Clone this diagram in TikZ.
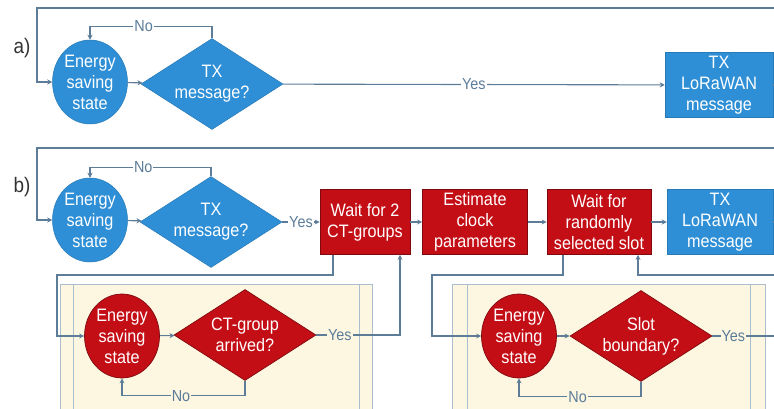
\documentclass[tikz,border=0pt]{standalone}
\usepackage{fontspec}
\setmainfont{Liberation Sans}[FakeStretch=0.9]
\usepackage{xcolor}
\usepackage{tikz}
\usetikzlibrary{shapes.geometric,arrows.meta,positioning}
\definecolor{flowblue}{RGB}{46,143,214}
\definecolor{flowred}{RGB}{196,14,22}
\definecolor{flowline}{RGB}{92,124,152}
\definecolor{panelcream}{RGB}{253,247,226}
\definecolor{panelline}{RGB}{170,190,206}

\tikzset{
    conn/.style={flowline, line width=1.1pt, -{Stealth[length=5pt,width=5pt]}},
    statecirc/.style={ellipse, minimum width=75pt, minimum height=84pt, inner sep=0pt,
        align=center, text=white, font=\fontsize{18}{21}\selectfont},
    decision/.style={diamond, aspect=1.55, minimum width=142pt, minimum height=91pt,
        inner sep=0pt, align=center, text=white, font=\fontsize{18}{21}\selectfont},
    stepbox/.style={rectangle, minimum height=65pt, inner sep=2pt, align=center,
        text=white, font=\fontsize{18}{21}\selectfont},
    bluefill/.style={fill=flowblue, draw=flowblue!85!black, line width=0.5pt},
    redfill/.style={fill=flowred, draw=flowred!65!black, line width=0.7pt},
    lbl/.style={fill=white, text=flowline, inner sep=1pt, font=\fontsize{16}{18}\selectfont},
    part/.style={text=black!80, font=\fontsize{21}{24}\selectfont},
}

\begin{document}
\begin{tikzpicture}[x=1pt, y=-1pt]
    \path[use as bounding box, clip] (0,0) rectangle (774,409);
    \fill[white] (0,0) rectangle (774,409);

    % a) plain LoRaWAN node
    \node[part] (la) at (22,48) {a)};
    \node[statecirc, bluefill] (ea) at (90,82) {Energy\\saving\\state};
    \node[decision, bluefill] (da) at (212,84) {TX\\message?};
    \node[stepbox, bluefill, minimum width=108pt] (ta) at (719,85) {TX\\LoRaWAN\\message};

    \draw[conn] (ea) -- (da);
    \draw[conn] (da.north) -- ++(0,-12) -| node[lbl, pos=0.28] {No} (ea.north);
    \draw[conn] (da) -- node[lbl] {Yes} (ta);
    \draw[conn] (ta.east) -- ++(20,0) |- (37,8) |- (ea.west);

    % b) synchronised node
    \node[part] (lb) at (22,187) {b)};
    \node[statecirc, bluefill] (eb) at (90,220) {Energy\\saving\\state};
    \node[decision, bluefill] (db) at (211,222) {TX\\message?};
    \node[stepbox, redfill, minimum width=90pt] (w1) at (365,222) {Wait for 2\\CT-groups};
    \node[stepbox, redfill, minimum width=105pt] (w2) at (475,222) {Estimate\\clock\\parameters};
    \node[stepbox, redfill, minimum width=104pt] (w3) at (599,222) {Wait for\\randomly\\selected slot};
    \node[stepbox, bluefill, minimum width=106pt] (tb) at (720,222) {TX\\LoRaWAN\\message};

    \draw[conn] (eb) -- (db);
    \draw[conn] (db.north) -- ++(0,-9) -| node[lbl, pos=0.28] {No} (eb.north);
    \draw[conn] (db) -- node[lbl] {Yes} (w1);
    \draw[conn] (w1) -- (w2);
    \draw[conn] (w2) -- (w3);
    \draw[conn] (w3) -- (tb);
    \draw[conn] (tb.east) -- ++(20,0) |- (37,148) |- (eb.west);

    % Sub-processes
    \foreach \xl/\xa/\xb/\xr in {60/73/359/372, 452/467/750/765} {
        \filldraw[fill=panelcream, draw=panelline, line width=0.8pt] (\xl,284) rectangle (\xr,420);
        \draw[panelline, line width=0.8pt] (\xa,284) -- (\xa,420) (\xb,284) -- (\xb,420);
    }

    \node[statecirc, redfill] (ec1) at (122,336) {Energy\\saving\\state};
    \node[decision, redfill] (dc1) at (245,335) {CT-group\\arrived?};
    \node[statecirc, redfill] (ec2) at (519,336) {Energy\\saving\\state};
    \node[decision, redfill] (dc2) at (641,336) {Slot\\boundary?};

    \draw[conn] ([xshift=-32pt]w1.south) |- (57,275) |- (ec1.west);
    \draw[conn] (ec1) -- (dc1);
    \draw[conn] (dc1.east) -| node[lbl, fill=panelcream, pos=0.14] {Yes} ([xshift=35pt]w1.south);
    \draw[conn] (dc1.south) -- ++(0,15) -| node[lbl, fill=panelcream, pos=0.26] {No} (ec1.south);

    \draw[conn] ([xshift=-36pt]w3.south) |- (432,275) |- (ec2.west);
    \draw[conn] (ec2) -- (dc2);
    \draw[conn] (dc2.east) -| node[lbl, fill=panelcream, pos=0.135] {Yes} (790,275) -| ([xshift=39pt]w3.south);
    \draw[conn] (dc2.south) -- ++(0,15) -| node[lbl, fill=panelcream, pos=0.26] {No} (ec2.south);
\end{tikzpicture}
\end{document}
